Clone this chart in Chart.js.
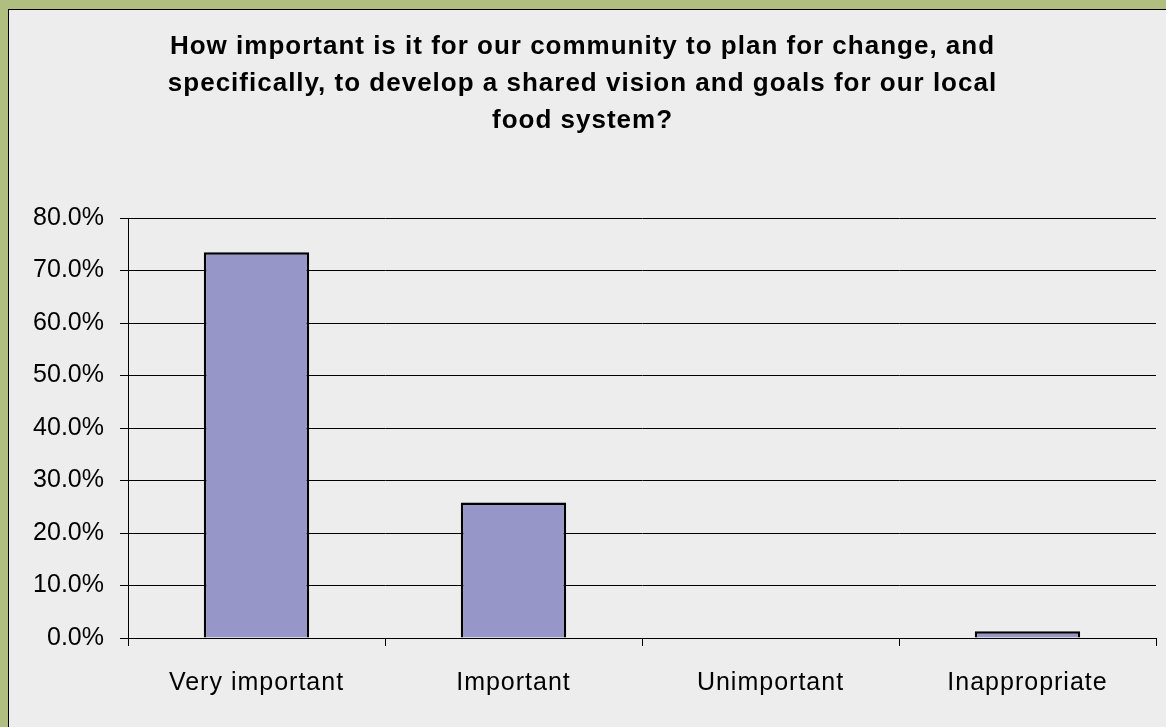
<!DOCTYPE html>
<html>
<head>
<meta charset="utf-8">
<script src="https://cdn.jsdelivr.net/npm/chart.js@4/dist/chart.umd.min.js"></script>
<style>
  html, body { margin: 0; padding: 0; background: #b0bf80; width: 1166px; height: 727px; overflow: hidden; }
  #wrap { position: absolute; left: 8px; top: 9px; border-left: 1px solid #000; border-top: 1px solid #000; background: #ededed; width: 1157px; height: 717px; }
  canvas { display: block; }
</style>
</head>
<body>
<div id="wrap"><canvas id="surveyChart" width="1157" height="717"></canvas></div>
<script>
const titleLines = [
  'How important is it for our community to plan for change, and',
  'specifically, to develop a shared vision and goals for our local',
  'food system?'
];
const categories = ['Very important', 'Important', 'Unimportant', 'Inappropriate'];
const responses = [73.5, 25.8, 0, 1.3];
const yMax = 80;
const yStep = 10;

// canvas letterSpacing for title + x labels, reset before bars
const spacingPlugin = {
  id: 'spacing',
  beforeDraw(chart) { chart.ctx.letterSpacing = '1px'; },
  beforeDatasetsDraw(chart) { chart.ctx.letterSpacing = '0px'; }
};

const ctx = document.getElementById('surveyChart');
new Chart(ctx, {
  type: 'bar',
  data: {
    labels: categories,
    datasets: [{
      data: responses,
      backgroundColor: '#9696c9',
      borderColor: '#000',
      borderWidth: 2.5,
      categoryPercentage: 1,
      barPercentage: 0.41
    }]
  },
  plugins: [spacingPlugin],
  options: {
    responsive: false,
    animation: false,
    layout: { padding: { left: 0, right: 10, top: 0, bottom: 0 } },
    plugins: {
      legend: { display: false },
      tooltip: { enabled: false },
      title: {
        display: true,
        text: titleLines,
        color: '#000',
        font: { family: 'Liberation Sans, Arial, sans-serif', size: 26, weight: 'bold', lineHeight: '37px' },
        padding: { top: 18.5, bottom: 78.5 }
      }
    },
    scales: {
      x: {
        afterFit(s) { s.height = 89; },
        grid: { offset: true, drawOnChartArea: false, drawTicks: true, tickLength: 8, color: '#000' },
        border: { display: true, color: '#000', width: 1 },
        ticks: {
          color: '#000',
          padding: 22,
          z: -2,
          font: { family: 'Liberation Sans, Arial, sans-serif', size: 25 }
        }
      },
      y: {
        min: 0,
        max: yMax,
        afterFit(s) { s.width = 119; },
        grid: { color: '#000', tickLength: 8 },
        border: { display: true, color: '#000', width: 1 },
        ticks: {
          stepSize: yStep,
          color: '#000',
          padding: 16,
          z: 1,
          font: { family: 'Liberation Sans, Arial, sans-serif', size: 25 },
          callback: function(v){ return v.toFixed(1) + '%'; }
        }
      }
    }
  }
});
</script>
</body>
</html>
